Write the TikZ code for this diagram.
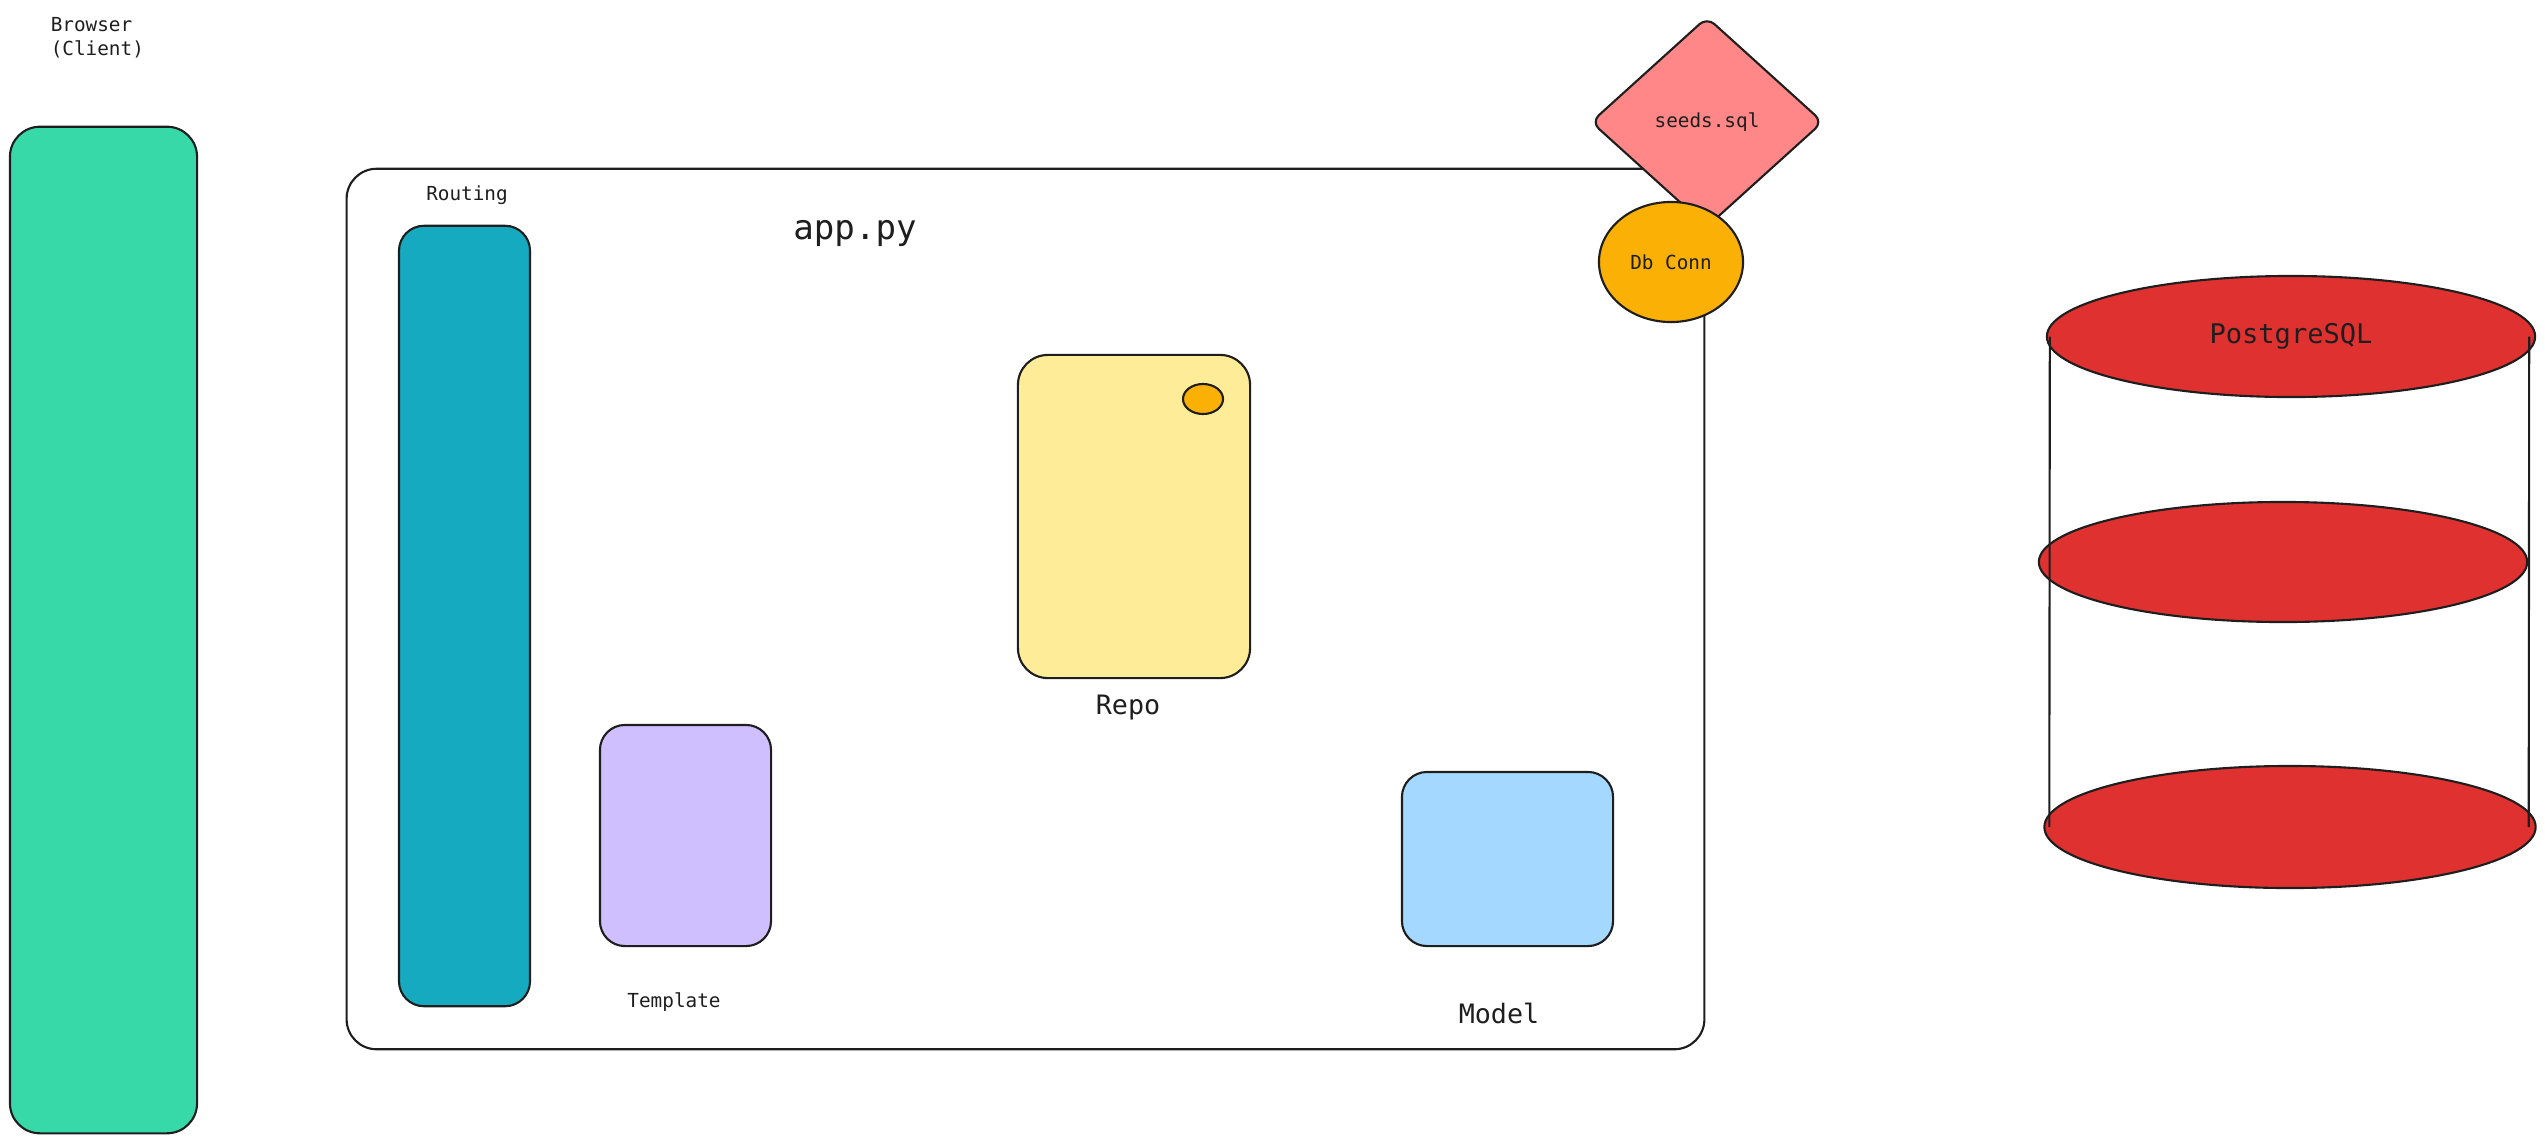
\documentclass[tikz,border=0pt]{standalone}
\usepackage{fontspec}
\setmainfont{DejaVu Sans Mono}
\usetikzlibrary{shapes.geometric}
\definecolor{ink}{HTML}{1E1E1E}
\definecolor{browsergreen}{HTML}{38D9A9}
\definecolor{routingteal}{HTML}{15AABF}
\definecolor{templatelilac}{HTML}{D0BFFF}
\definecolor{repoyellow}{HTML}{FFEC99}
\definecolor{modelblue}{HTML}{A5D8FF}
\definecolor{seedspink}{HTML}{FF8787}
\definecolor{connorange}{HTML}{FAB005}
\definecolor{pgred}{HTML}{E03131}

\begin{document}
\begin{tikzpicture}[x=0.01cm, y=-0.01cm, line width=0.6pt,
        box/.style={draw=ink, rectangle, rounded corners=0.3cm, inner sep=0pt},
        disc/.style={draw=ink, ellipse, inner sep=0pt},
        small/.style={text=ink, font=\fontsize{5.5}{6.8}\selectfont},
        big/.style={text=ink, font=\fontsize{7.6}{9}\selectfont}]
        \useasboundingbox (0,0) rectangle (2545,1145);

        % Browser
        \node[small, align=left, anchor=west] (browsertxt) at (38,38) {Browser\\(Client)};
        \node[box, fill=browsergreen, minimum width=1.87cm, minimum height=10.06cm] (browser) at (103.5,630) {};

        % app.py
        \node[box, minimum width=13.57cm, minimum height=8.8cm] (app) at (1025.5,609) {};
        \node[text=ink, font=\fontsize{9.7}{11}\selectfont] (apptxt) at (855,233) {app.py};
        \node[small] (routingtxt) at (467,195) {Routing};
        \node[box, fill=routingteal, rounded corners=0.25cm, minimum width=1.31cm, minimum height=7.8cm] (routing) at (464.5,616) {};
        \node[box, fill=repoyellow, minimum width=2.32cm, minimum height=3.23cm] (repo) at (1134,516.5) {};
        \node[disc, fill=connorange, minimum width=0.4cm, minimum height=0.3cm] (repodot) at (1203,399) {};
        \node[big] (repotxt) at (1128,708) {Repo};
        \node[box, fill=templatelilac, rounded corners=0.25cm, minimum width=1.71cm, minimum height=2.21cm] (template) at (685.5,835.5) {};
        \node[small] (templatetxt) at (674,1002) {Template};
        \node[box, fill=modelblue, rounded corners=0.25cm, minimum width=2.11cm, minimum height=1.74cm] (model) at (1507.5,859) {};
        \node[big] (modeltxt) at (1499,1013) {Model};

        % seeds + connection
        \node[draw=ink, fill=seedspink, diamond, rounded corners=0.1cm, inner sep=0pt,
            minimum width=2.32cm, minimum height=2.1cm, small] (seeds) at (1707,122) {seeds.sql};
        \node[disc, fill=connorange, minimum width=1.44cm, minimum height=1.2cm, small] (dbconn) at (1671,262) {Db Conn};

        % PostgreSQL
        \node[disc, fill=pgred, minimum width=4.88cm, minimum height=1.21cm, text=ink,
            font=\fontsize{7.7}{9}\selectfont] (pgtop) at (2291,336.5) {PostgreSQL};
        \node[disc, fill=pgred, minimum width=4.88cm, minimum height=1.2cm] (pgmid) at (2283,562) {};
        \node[disc, fill=pgred, minimum width=4.91cm, minimum height=1.22cm] (pgbottom) at (2290,827) {};
        \draw[ink] ([xshift=0.04cm]pgtop.west) -- ([xshift=0.06cm]pgbottom.west);
        \draw[ink] ([xshift=-0.07cm]pgtop.east) -- ([xshift=-0.08cm]pgbottom.east);
    \end{tikzpicture}
\end{document}
